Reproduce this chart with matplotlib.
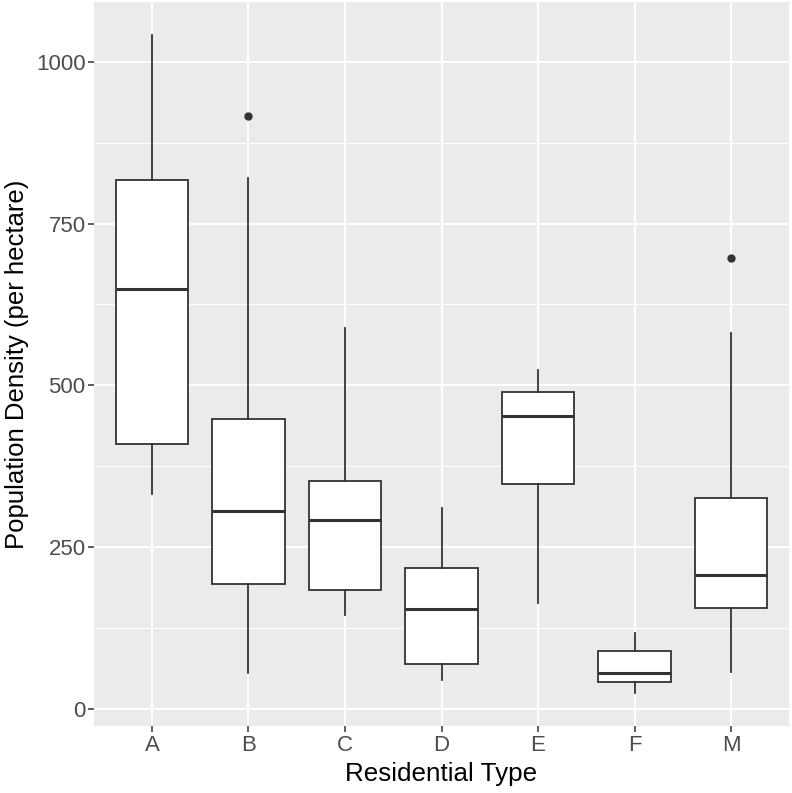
import matplotlib
matplotlib.use("Agg")
import matplotlib.pyplot as plt
from matplotlib.ticker import MultipleLocator

categories = ["A", "B", "C", "D", "E", "F", "M"]
whislo = [332, 55, 145, 44, 164, 24, 56]
q1 = [409, 193, 184, 69, 348, 42, 155]
med = [649, 306, 291, 154, 453, 55, 206]
q3 = [817, 448, 352, 218, 489, 89, 326]
whishi = [1042, 821, 588, 310, 523, 117, 581]
fliers = [[], [917], [], [], [], [], [697]]

plt.rcParams['font.family'] = ['Liberation Sans', 'DejaVu Sans']

fig = plt.figure(figsize=(7.92, 7.93), dpi=100)
ax = fig.add_axes([94/792, (793-726.2)/793, (789-94)/792, (726.2-2)/793])
ax.set_facecolor('#EBEBEB')

stats = []
for i, c in enumerate(categories):
    stats.append(dict(label=c, whislo=whislo[i], q1=q1[i], med=med[i],
                      q3=q3[i], whishi=whishi[i], fliers=fliers[i]))

pos = list(range(1, len(categories) + 1))
lc = '#333333'
ax.bxp(stats, positions=pos, widths=0.75, patch_artist=True, showcaps=False,
       boxprops=dict(facecolor='white', edgecolor=lc, linewidth=1.3),
       whiskerprops=dict(color=lc, linewidth=1.3),
       medianprops=dict(color=lc, linewidth=2.2),
       flierprops=dict(marker='o', markerfacecolor=lc, markeredgecolor=lc,
                       markersize=5, linestyle='none'),
       zorder=3)

ax.set_xlim(0.4, 7.6)
lo, hi = 23.8, 1041.8
ax.set_ylim(lo - 0.05*(hi-lo), hi + 0.05*(hi-lo))
ax.set_xticks(pos)
ax.set_xticklabels(categories)
ax.yaxis.set_major_locator(MultipleLocator(250))
ax.yaxis.set_minor_locator(MultipleLocator(125))

ax.grid(which='major', color='white', linewidth=1.4, zorder=0)
ax.grid(which='minor', axis='y', color='white', linewidth=0.7, zorder=0)
ax.set_axisbelow(True)
for s in ax.spines.values():
    s.set_visible(False)

ax.tick_params(axis='both', which='major', length=4, width=1.1, color='#333333',
               labelsize=16, labelcolor='#4D4D4D', pad=2)
ax.tick_params(axis='both', which='minor', length=0)

ax.set_xlabel('Residential Type', fontsize=18.7, color='black', labelpad=5)
ax.set_ylabel('Population Density (per hectare)', fontsize=18.5, color='black', labelpad=5)

fig.savefig('out.png', dpi=100)
